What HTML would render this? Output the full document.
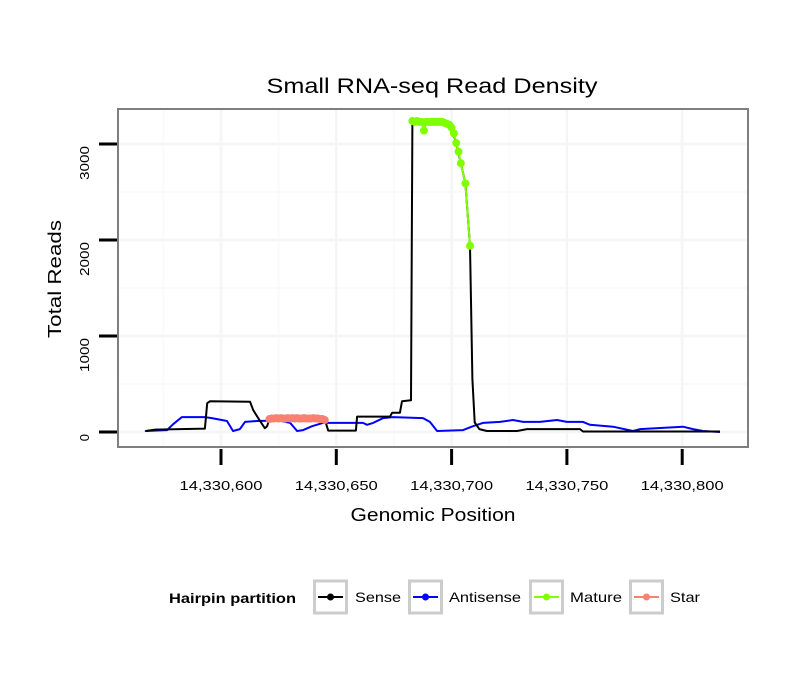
<!DOCTYPE html>
<html><head><meta charset="utf-8"><style>
body{margin:0;background:#fff;}
svg{display:block;font-family:"Liberation Sans",sans-serif;}
</style></head><body>
<svg id="chart" width="810" height="690">
<rect width="810" height="690" fill="#fff"/>
<g id="grid"></g>
<g id="series"></g>
<rect x="118" y="109" width="630" height="338" fill="none" stroke="#7f7f7f" stroke-width="2"/>
<g id="axes"></g>
<text x="432" y="93" text-anchor="middle" font-size="21" textLength="331" lengthAdjust="spacingAndGlyphs">Small RNA-seq Read Density</text>
<text x="433" y="521" text-anchor="middle" font-size="18" textLength="165" lengthAdjust="spacingAndGlyphs">Genomic Position</text>
<text transform="translate(61,279) rotate(-90)" text-anchor="middle" font-size="18" textLength="118" lengthAdjust="spacingAndGlyphs">Total Reads</text>
<g id="legend">
<text x="169" y="603" font-size="14" font-weight="bold" textLength="127" lengthAdjust="spacingAndGlyphs">Hairpin partition</text>
</g>
</svg>
<script>
const xTicks=[600,650,700,750,800];
const xTickLabels=["14,330,600","14,330,650","14,330,700","14,330,750","14,330,800"];
const yTicks=[0,1000,2000,3000];
const yTickLabels=["0","1000","2000","3000"];
const sensePos=[567.5,571.4,593,594,595.2,612.6,613.9,616,619,620,621,630,640,645,646.5,658.5,659,673.3,674.2,677.6,678.5,682.4,683,690,696,698,700,702,704,706,708,709,710,712,715.3,728.4,732.7,755.7,757,816.4];
const senseVal=[10,25,35,300,320,315,230,150,40,60,135,140,140,130,15,15,160,160,200,200,320,330,3240,3230,3230,3210,3170,3010,2800,2590,1940,550,100,30,10,10,30,30,5,5];
const antiPos=[567,576.6,579.2,583,593,596,602.6,605.2,608.2,610.4,615.6,625,630,633,635.6,639.5,644.2,661.6,663.3,666,670.3,674.6,687.6,690.6,693.7,705,709.3,713.6,721,726.6,731,738.3,745.7,750,757,760,770,778.7,781.7,800.3,804.7,809,816.4];
const antiVal=[10,20,80,155,155,145,115,10,30,105,115,120,95,10,20,60,95,95,75,95,145,155,145,105,10,20,60,95,105,125,105,105,125,105,105,75,55,10,30,55,30,10,0];
const maturePos=[683,684,685,686,687,688,689,690,691,692,693,694,695,696,697,698,699,700,701,702,703,704,706,708];
const matureVal=[3240,3230,3240,3230,3230,3140,3230,3230,3230,3230,3230,3230,3230,3230,3220,3210,3200,3170,3110,3010,2920,2800,2590,1940];
const starPos=[621,622,623,624,625,626,627,628,629,630,631,632,633,634,635,636,637,638,639,640,641,642,643,644,645];
const starVal=[135,140,140,145,140,145,140,140,145,140,145,140,145,140,140,145,140,140,140,145,140,140,135,135,125];
const NS="http://www.w3.org/2000/svg";
function X(p){return 221+(p-600)*2.306;}
function Y(v){return 432-v*0.096;}
function mk(tag,attrs,parent){const e=document.createElementNS(NS,tag);for(const k in attrs)e.setAttribute(k,attrs[k]);parent.appendChild(e);return e;}
const grid=document.getElementById('grid'),axes=document.getElementById('axes'),series=document.getElementById('series');
mk('rect',{x:118,y:109,width:630,height:338,fill:'#fff'},grid);
for(let p=575;p<=750;p+=50){const l=mk('line',{x1:X(p),x2:X(p),y1:109,y2:447,stroke:'#f9f9f9','stroke-width':1.5},grid);

}
for(let v=500;v<=3000;v+=1000){const l=mk('line',{x1:118,x2:748,y1:Y(v),y2:Y(v),stroke:'#f9f9f9','stroke-width':1.5},grid);

}
xTicks.forEach((t,i)=>{const l=mk('line',{x1:X(t),x2:X(t),y1:109,y2:447,stroke:'#f5f5f5','stroke-width':2.5},grid);


const tk=mk('line',{x1:X(t),x2:X(t),y1:449,y2:465,stroke:'#000','stroke-width':3},axes);


const tx=mk('text',{x:X(t),y:490,'text-anchor':'middle','font-size':13,textLength:83,lengthAdjust:'spacingAndGlyphs'},axes);tx.textContent=xTickLabels[i];

});
yTicks.forEach((t,i)=>{const l=mk('line',{x1:118,x2:748,y1:Y(t),y2:Y(t),stroke:'#f5f5f5','stroke-width':2.5},grid);


const tk=mk('line',{x1:99,x2:117,y1:Y(t),y2:Y(t),stroke:'#000','stroke-width':3},axes);


const attrs={transform:`translate(89,${Y(t)+2}) rotate(-90)`,'text-anchor':'end','font-size':13};
if(yTickLabels[i].length>1){attrs.textLength=34;attrs.lengthAdjust='spacingAndGlyphs';}
const tx=mk('text',attrs,axes);tx.textContent=yTickLabels[i];

});
function line(pos,val,color,name){const d=pos.map((p,i)=>(i?'L':'M')+X(p).toFixed(1)+','+Y(val[i]).toFixed(1)).join('');
const e=mk('path',{d:d,fill:'none',stroke:color,'stroke-width':2,'stroke-linejoin':'round'},series);

}
function pts(pos,val,color,name){pos.forEach((p,i)=>{const c=mk('circle',{cx:X(p),cy:Y(val[i]),r:4,fill:color},series);

});}
line(antiPos,antiVal,'#0000ff','antisense-line');
line(sensePos,senseVal,'#000','sense-line');
line(maturePos,matureVal,'#7fff00','mature-line');
pts(maturePos,matureVal,'#7fff00','mature-point');
line(starPos,starVal,'#fa8072','star-line');
pts(starPos,starVal,'#fa8072','star-point');
const leg=document.getElementById('legend');
const items=[["Sense","#000",313,355,46],["Antisense","#0000ff",408,449,72],["Mature","#7fff00",529,570,52],["Star","#fa8072",629,670,30]];
items.forEach(it=>{const g=mk('g',{},leg);


mk('rect',{x:it[2]+1.5,y:581,width:32,height:32,fill:'#fff',stroke:'#cccccc','stroke-width':3},g);
mk('line',{x1:it[2]+5,x2:it[2]+30,y1:597,y2:597,stroke:it[1],'stroke-width':2},g);
mk('circle',{cx:it[2]+17.5,cy:597,r:3.5,fill:it[1]},g);
const t=mk('text',{x:it[3],y:602,'font-size':14,textLength:it[4],lengthAdjust:'spacingAndGlyphs'},g);t.textContent=it[0];});
</script>
</body></html>
